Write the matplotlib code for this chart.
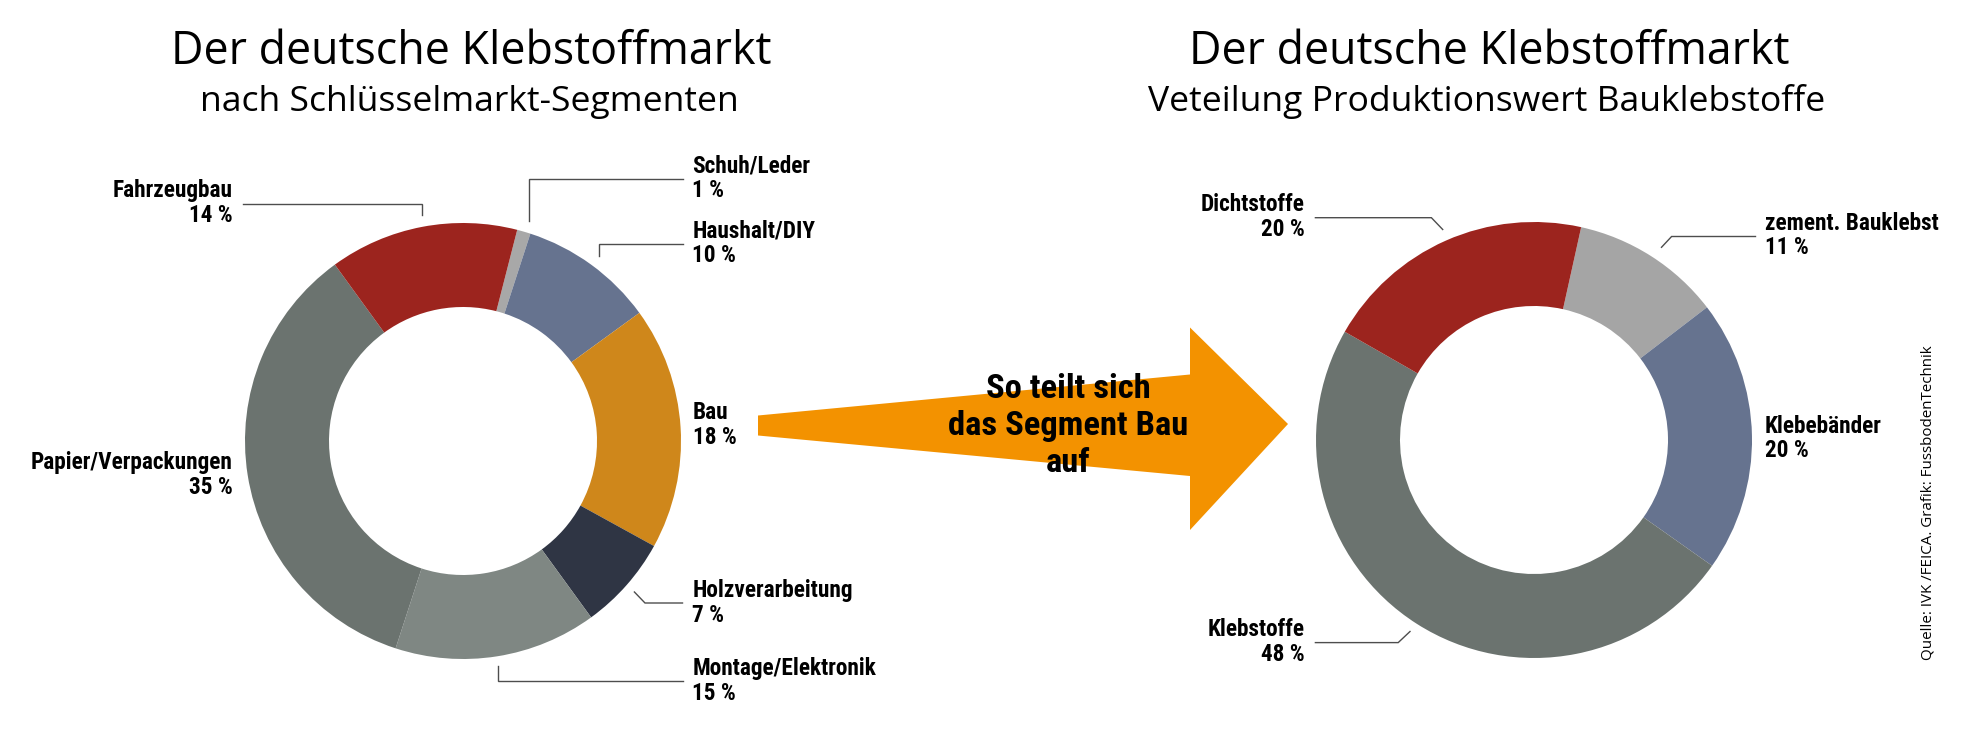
import matplotlib
matplotlib.use("Agg")
import matplotlib.pyplot as plt
from matplotlib import font_manager as fm
from matplotlib.patches import Polygon

# ---------------- data ----------------
left_labels = ["Schuh/Leder", "Haushalt/DIY", "Bau", "Holzverarbeitung",
               "Montage/Elektronik", "Papier/Verpackungen", "Fahrzeugbau"]
left_values = [1, 10, 18, 7, 15, 35, 14]
left_colors = ["#A8A8A8", "#66738F", "#CF871B", "#2F3544",
               "#7F8783", "#6B736F", "#9C241E"]

right_labels = ["zement. Bauklebst", "Klebebänder", "Klebstoffe", "Dichtstoffe"]
right_values = [11, 20, 48, 20]
right_colors = ["#A5A5A5", "#66738F", "#6B736F", "#9C241E"]

title_main = "Der deutsche Klebstoffmarkt"
left_subtitle = "nach Schlüsselmarkt-Segmenten"
right_subtitle = "Veteilung Produktionswert Bauklebstoffe"
arrow_lines = ["So teilt sich", "das Segment Bau", "auf"]
source_text = "Quelle: IVK /FEICA. Grafik: FussbodenTechnik"

# ---------------- fonts ----------------
names = {f.name for f in fm.fontManager.ttflist}
cond_family, cond_stretch = "DejaVu Sans", "normal"
for cand in ["Liberation Sans Narrow", "Roboto Condensed", "Open Sans Condensed",
             "Noto Sans Condensed"]:
    if cand in names:
        cond_family = cand
        break
else:
    if any(f.name == "DejaVu Sans" and f.stretch == "condensed" for f in fm.fontManager.ttflist):
        cond_stretch = "condensed"
light_family = "Open Sans" if "Open Sans" in names else "DejaVu Sans"

W, H = 1963, 729
fig = plt.figure(figsize=(W / 100, H / 100), dpi=100)
ax = fig.add_axes([0, 0, 1, 1])
renderer = fig.canvas.get_renderer()


def Y(y):
    return H - y


def fit_size(text, target, family, weight="normal", stretch="normal", base=20.0):
    t = fig.text(0, 0, text, fontsize=base, family=family, weight=weight,
                 fontstretch=stretch)
    w = t.get_window_extent(renderer=renderer).width
    t.remove()
    return base * target / w


# ---------------- donuts ----------------
R, RING = 218, 84
ax.pie(left_values, colors=left_colors, startangle=75.6, counterclock=False,
       radius=R, center=(463, Y(441)), frame=True,
       wedgeprops=dict(width=RING, linewidth=0, edgecolor="none"))
ax.pie(right_values, colors=right_colors, startangle=77.5, counterclock=False,
       radius=R, center=(1534, Y(440)), frame=True,
       wedgeprops=dict(width=RING, linewidth=0, edgecolor="none"))

# ---------------- arrow ----------------
arrow = Polygon([(758, Y(415.5)), (1190, Y(374.5)), (1190, Y(327.5)),
                 (1288, Y(424)), (1190, Y(530)), (1190, Y(476)),
                 (758, Y(435.5))], closed=True, facecolor="#F39200",
                edgecolor="none", zorder=1)
ax.add_patch(arrow)

arrow_fs = fit_size(arrow_lines[1], 239, cond_family, "bold", cond_stretch)
for line, yb in zip(arrow_lines, [398, 435, 472]):
    ax.text(1068, Y(yb), line, ha="center", va="baseline", fontsize=arrow_fs,
            family=cond_family, fontstretch=cond_stretch, weight="bold",
            color="black", zorder=3)

# ---------------- labels ----------------
label_fs = fit_size("Fahrzeugbau", 120, cond_family, "bold", cond_stretch)
LINE = 24.5
LEAD = "#4D4D4D"

left_pos = {
    "Schuh/Leder": (692.5, 172, "left", [(682.5, 178.5), (528.75, 178.5), (528.75, 221)]),
    "Haushalt/DIY": (692.5, 237.6, "left", [(682.5, 244.3), (598.75, 244.3), (598.75, 256)]),
    "Bau": (693, 419, "left", None),
    "Holzverarbeitung": (692.5, 597.5, "left", [(682.5, 603), (645, 603), (634.4, 592)]),
    "Montage/Elektronik": (692.5, 675, "left", [(682.5, 681.4), (498, 681.4), (498, 666)]),
    "Papier/Verpackungen": (233, 469, "right", None),
    "Fahrzeugbau": (233, 197, "right", [(242.5, 203.6), (422, 203.6), (422, 214.7)]),
}
right_pos = {
    "zement. Bauklebst": (1765, 229.5, "left", [(1755.5, 236.5), (1671.6, 236.5), (1661.5, 247.3)]),
    "Klebebänder": (1765, 432.5, "left", None),
    "Klebstoffe": (1304.8, 636.3, "right", [(1315.4, 642.6), (1398.2, 642.6), (1410, 631.5)]),
    "Dichtstoffe": (1304.8, 211, "right", [(1315.4, 217.7), (1431.4, 217.7), (1442.7, 229.5)]),
}


def draw_labels(labels, values, pos):
    for lab, val in zip(labels, values):
        x, yb, ha, lead = pos[lab]
        ax.text(x, Y(yb), lab, ha=ha, va="baseline", fontsize=label_fs,
                family=cond_family, fontstretch=cond_stretch, weight="bold",
                color="black")
        ax.text(x, Y(yb + LINE), f"{val} %", ha=ha, va="baseline",
                fontsize=label_fs, family=cond_family, fontstretch=cond_stretch,
                weight="bold", color="black")
        if lead:
            ax.plot([p[0] for p in lead], [Y(p[1]) for p in lead], color=LEAD,
                    lw=1.0, solid_joinstyle="miter", zorder=2)


draw_labels(left_labels, left_values, left_pos)
draw_labels(right_labels, right_values, right_pos)

# ---------------- titles ----------------
t_fs = fit_size(title_main, 599, light_family)
s_fs = fit_size(left_subtitle, 537, light_family)
ax.text(471, Y(64), title_main, ha="center", va="baseline", fontsize=t_fs,
        family=light_family, color="black")
ax.text(469, Y(111), left_subtitle, ha="center", va="baseline", fontsize=s_fs,
        family=light_family, color="black")
ax.text(1489, Y(64), title_main, ha="center", va="baseline", fontsize=t_fs,
        family=light_family, color="black")
ax.text(1487, Y(111), right_subtitle, ha="center", va="baseline", fontsize=s_fs,
        family=light_family, color="black")

src_fs = fit_size(source_text, 314, light_family)
ax.text(1928, Y(503), source_text, rotation=90, ha="center", va="center",
        fontsize=src_fs, family=light_family, color="black")

ax.set_aspect("auto")
ax.set_xlim(0, W)
ax.set_ylim(0, H)
ax.axis("off")
fig.savefig("out.png", dpi=100, facecolor="white")
